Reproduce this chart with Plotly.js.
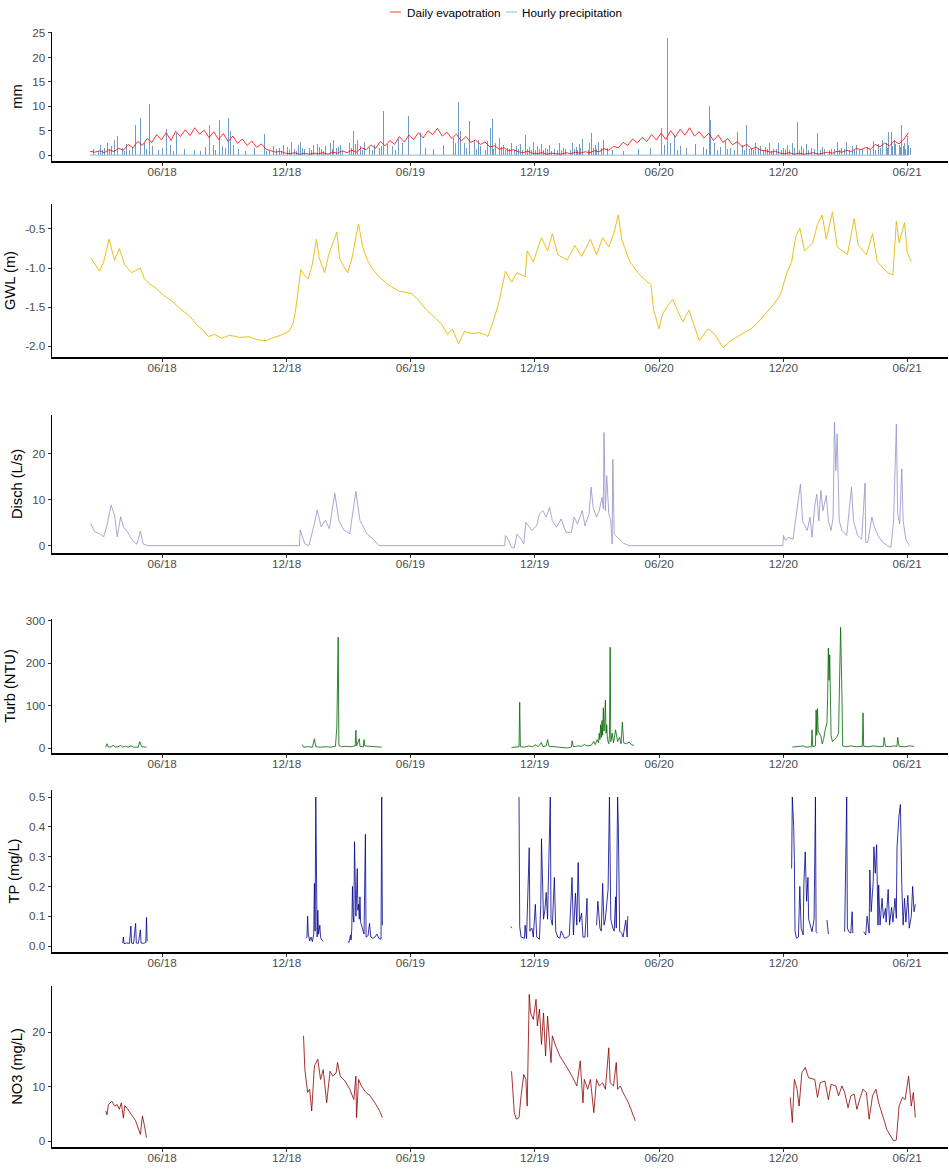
<!DOCTYPE html>
<html><head><meta charset="utf-8">
<script src="https://cdn.plot.ly/plotly-3.0.1.min.js"></script>
<style>html,body{margin:0;padding:0;background:#fff}#chart{width:949px;height:1169px}</style>
</head><body><div id="chart"></div>
<script>
// ---------- DATA ----------
// Daily evapotration, sampled weekly from start date
const evapStart = '2018-02-15';
const evapStepDays = 7;
const evapValues = [
0.8,0.6, 0.9,0.5,1.1,0.7,1.4, 1.0,2.2,1.5,2.8, 2.0,3.4,2.6,4.2,3.1, 4.6,3.0,4.9,3.8, 5.2,4.0,5.6,4.3,
5.1,3.6,4.8,3.2,4.4, 2.8,3.9,2.4,3.3, 2.0,2.9,1.6,2.3, 1.2,0.9,0.6,0.8,0.4, 0.3,0.5,0.2,0.4,
0.2,0.4,0.3,0.5,0.2, 0.6,0.4,0.9,0.5, 1.0,0.6,1.5,1.1, 2.1,1.4,2.8,1.9, 3.0,2.2,3.8,2.7,4.1, 3.2,4.6,3.5,5.0,
4.2,5.5,3.9,4.7, 3.4,4.3,2.9,3.8,2.6, 3.1,2.2,2.7,1.7, 1.9,1.2,1.5,0.9,1.1, 0.7,0.5,0.8,0.4, 0.3,0.5,0.2,0.4,
0.3,0.2,0.5,0.3,0.6, 0.4,0.7,0.5,0.9, 0.7,1.3,1.0,1.8, 1.5,2.6,2.0,3.3,2.5, 3.6,2.8,4.2,3.1, 4.5,3.2,5.0,3.7,
5.3,4.1,5.6,3.9,4.8, 3.5,4.5,3.0,4.1, 2.6,3.4,2.1,2.8, 1.7,2.2,1.3,1.6,1.0, 0.9,0.6,0.8,0.4, 0.3,0.5,0.2,0.4,0.2,
0.3,0.5,0.2,0.4, 0.6,0.4,0.8,0.6, 1.0,0.7,1.4,1.1, 1.6,1.2,2.2,1.7,2.5, 1.9,2.9,2.3,3.2, 4.6
];

// Hourly precipitation events [date, mm]
const precip = [
['2018-02-20',1.2],['2018-03-02',2.0],['2018-03-08',1.5],['2018-03-13',2.4],['2018-03-19',1.8],['2018-03-23',3.0],['2018-03-28',3.9],['2018-04-03',1.4],['2018-04-09',2.2],['2018-04-14',1.1],['2018-04-23',6.2],['2018-04-30',7.5],['2018-05-06',2.5],['2018-05-13',10.5],['2018-05-18',1.8],['2018-05-23',4.0],['2018-06-02',1.5],['2018-06-07',5.3],['2018-06-14',2.0],['2018-06-22',4.5],['2018-07-04',1.2],['2018-07-18',1.0],['2018-07-27',0.8],['2018-08-04',1.6],['2018-08-10',6.2],['2018-08-16',2.1],['2018-08-25',7.2],['2018-08-29',1.8],['2018-09-06',7.5],['2018-09-09',4.9],['2018-09-14',2.0],['2018-09-22',1.2],['2018-10-02',0.9],['2018-10-15',1.5],['2018-10-30',4.3],['2018-11-06',1.0],['2018-11-12',1.8],['2018-11-20',1.4],['2018-11-27',2.1],['2018-12-03',1.6],['2018-12-08',2.7],['2018-12-13',1.3],['2018-12-18',2.0],['2018-12-22',2.7],['2018-12-28',1.2],
['2019-01-04',1.5],['2019-01-10',2.0],['2019-01-15',2.2],['2019-01-22',1.3],['2019-01-28',1.8],['2019-02-03',2.5],['2019-02-08',3.1],['2019-02-13',1.4],['2019-02-19',2.0],['2019-02-25',1.2],['2019-03-03',2.4],['2019-03-09',4.9],['2019-03-12',2.2],['2019-03-15',3.0],['2019-03-20',1.8],['2019-03-26',2.6],['2019-04-02',1.6],['2019-04-10',2.0],['2019-04-17',1.4],['2019-04-23',9.0],['2019-04-28',2.2],['2019-05-06',1.8],['2019-05-14',3.4],['2019-05-21',2.5],['2019-05-29',8.0],['2019-06-05',2.0],['2019-06-16',4.5],['2019-06-24',1.5],['2019-07-05',1.2],['2019-07-20',2.0],['2019-08-03',3.5],['2019-08-07',2.4],['2019-08-11',10.8],['2019-08-14',5.0],['2019-08-20',2.5],['2019-08-27',7.0],['2019-09-03',2.8],['2019-09-09',3.0],['2019-09-16',2.0],['2019-09-22',2.8],['2019-09-27',5.5],['2019-09-30',7.3],['2019-10-05',2.5],['2019-10-10',3.5],['2019-10-16',2.0],['2019-10-22',1.5],['2019-10-28',2.4],['2019-11-04',1.8],['2019-11-10',2.2],['2019-11-17',4.1],['2019-11-23',1.6],['2019-11-29',2.7],['2019-12-05',1.9],['2019-12-11',2.2],['2019-12-17',1.4],['2019-12-23',2.0],['2019-12-30',1.3],
['2020-01-06',2.4],['2020-01-12',1.5],['2020-01-19',2.0],['2020-01-25',2.4],['2020-01-31',1.6],['2020-02-05',2.2],['2020-02-10',3.4],['2020-02-16',4.6],['2020-02-20',2.5],['2020-02-23',4.6],['2020-02-28',2.0],['2020-03-04',2.6],['2020-03-11',3.1],['2020-03-17',1.5],['2020-03-25',1.0],['2020-04-10',0.8],['2020-05-02',1.2],['2020-05-20',1.5],['2020-06-05',5.5],['2020-06-09',2.0],['2020-06-13',24.0],['2020-06-18',2.5],['2020-06-24',4.1],['2020-07-02',1.8],['2020-07-12',1.5],['2020-07-25',2.2],['2020-08-05',1.6],['2020-08-14',10.1],['2020-08-16',7.2],['2020-08-22',2.5],['2020-08-30',1.6],['2020-09-06',2.8],['2020-09-14',1.5],['2020-09-24',4.8],['2020-10-02',2.0],['2020-10-08',6.2],['2020-10-15',1.4],['2020-10-21',2.4],['2020-10-28',1.8],['2020-11-04',1.6],['2020-11-10',2.4],['2020-11-17',1.2],['2020-11-24',2.4],['2020-12-01',1.5],['2020-12-07',2.0],['2020-12-14',2.4],['2020-12-21',6.7],['2020-12-27',1.8],
['2021-01-04',2.2],['2021-01-11',1.4],['2021-01-20',4.5],['2021-01-27',1.6],['2021-02-03',2.2],['2021-02-10',1.2],['2021-02-18',2.6],['2021-02-25',1.5],['2021-03-04',2.7],['2021-03-12',1.8],['2021-03-19',2.0],['2021-03-27',1.2],['2021-04-04',1.6],['2021-04-12',2.8],['2021-04-20',2.2],['2021-04-26',3.0],['2021-05-01',2.4],['2021-05-05',4.7],['2021-05-09',4.7],['2021-05-13',3.0],['2021-05-17',10.4],['2021-05-20',2.0],['2021-05-24',6.2],['2021-05-28',2.5],['2021-06-01',4.0],['2021-06-06',1.5]
];
// Smaller hourly precipitation events [date, mm]
const precipMinor = [
['2018-02-27',0.8],['2018-03-05',1.0],['2018-03-16',1.2],['2018-04-06',0.9],['2018-04-19',1.6],['2018-05-09',1.2],['2018-05-27',1.0],['2018-06-18',0.8],['2018-08-19',1.0],['2018-09-02',1.5],['2018-11-02',0.8],['2018-11-16',1.2],['2018-11-23',0.9],['2018-12-05',1.1],['2018-12-16',0.9],['2018-12-25',1.5],
['2019-01-07',1.0],['2019-01-18',1.6],['2019-01-25',0.9],['2019-02-06',1.2],['2019-02-16',1.7],['2019-02-22',0.9],['2019-03-06',1.4],['2019-03-23',1.1],['2019-04-07',1.0],['2019-04-20',1.8],['2019-05-10',1.0],['2019-08-23',1.5],['2019-09-06',1.2],['2019-09-13',1.8],['2019-09-19',1.1],['2019-10-02',1.3],['2019-10-13',1.6],['2019-10-19',1.0],['2019-10-25',1.2],['2019-11-01',1.0],['2019-11-07',1.3],['2019-11-13',1.0],['2019-11-20',1.2],['2019-11-26',1.0],['2019-12-02',1.1],['2019-12-08',1.3],['2019-12-14',1.0],['2019-12-20',1.2],['2019-12-26',0.9],
['2020-01-03',1.1],['2020-01-09',1.0],['2020-01-16',1.3],['2020-01-22',1.0],['2020-01-28',1.2],['2020-02-02',1.0],['2020-02-07',1.4],['2020-02-13',1.8],['2020-02-18',1.1],['2020-02-26',1.5],['2020-03-01',1.2],['2020-03-08',1.4],['2020-06-20',1.2],['2020-06-28',1.0],['2020-08-10',1.3],['2020-08-26',1.0],['2020-09-10',1.2],['2020-09-20',1.0],['2020-10-05',1.1],['2020-10-12',1.3],['2020-10-18',1.0],['2020-10-25',1.2],['2020-11-01',1.0],['2020-11-07',1.2],['2020-11-14',0.9],['2020-11-21',1.3],['2020-11-28',1.0],['2020-12-04',1.2],['2020-12-10',1.0],['2020-12-17',1.4],['2020-12-24',1.0],['2020-12-30',1.2],
['2021-01-07',1.1],['2021-01-15',1.3],['2021-01-24',1.0],['2021-01-31',1.2],['2021-02-06',1.0],['2021-02-14',1.3],['2021-02-21',1.0],['2021-03-01',1.2],['2021-03-08',1.0],['2021-03-15',1.1],['2021-03-23',1.0],['2021-04-08',1.2],['2021-04-16',1.0],['2021-04-23',1.4],['2021-05-03',1.5],['2021-05-11',1.8],['2021-05-15',2.2],['2021-05-22',1.6],['2021-05-26',1.9],['2021-05-30',1.3],['2021-06-03',2.0]
];

// Groundwater level (m)
const gwl = [
['2018-02-16',-0.87],['2018-03-01',-1.04],['2018-03-07',-0.92],['2018-03-15',-0.63],['2018-03-23',-0.90],['2018-03-30',-0.75],['2018-04-07',-0.96],['2018-04-17',-1.06],['2018-04-30',-1.00],['2018-05-06',-1.14],['2018-05-13',-1.20],['2018-05-23',-1.26],['2018-06-03',-1.35],['2018-06-15',-1.42],['2018-06-30',-1.54],['2018-07-11',-1.61],['2018-07-22',-1.73],['2018-08-01',-1.80],['2018-08-08',-1.88],['2018-08-17',-1.85],['2018-08-28',-1.90],['2018-09-08',-1.86],['2018-09-23',-1.89],['2018-10-07',-1.88],['2018-10-19',-1.92],['2018-11-01',-1.93],['2018-11-12',-1.89],['2018-11-23',-1.86],['2018-12-05',-1.81],['2018-12-11',-1.70],['2018-12-15',-1.50],['2018-12-19',-1.25],['2018-12-22',-1.02],['2018-12-28',-1.10],
['2019-01-02',-1.14],['2019-01-08',-0.95],['2019-01-14',-0.63],['2019-01-18',-0.87],['2019-01-26',-1.06],['2019-02-01',-0.83],['2019-02-08',-0.66],['2019-02-13',-0.54],['2019-02-17',-0.87],['2019-02-23',-0.98],['2019-03-01',-1.06],['2019-03-08',-0.85],['2019-03-13',-0.60],['2019-03-17',-0.44],['2019-03-23',-0.73],['2019-03-30',-0.90],['2019-04-07',-1.02],['2019-04-17',-1.12],['2019-04-29',-1.21],['2019-05-07',-1.25],['2019-05-16',-1.30],['2019-05-25',-1.31],['2019-06-03',-1.33],['2019-06-12',-1.40],['2019-06-25',-1.54],['2019-07-08',-1.64],['2019-07-17',-1.72],['2019-07-26',-1.85],['2019-08-02',-1.78],['2019-08-11',-1.97],['2019-08-20',-1.81],['2019-08-30',-1.84],['2019-09-10',-1.83],['2019-09-19',-1.85],['2019-09-23',-1.88],['2019-10-01',-1.69],['2019-10-10',-1.42],['2019-10-19',-1.04],['2019-10-28',-1.18],['2019-11-05',-1.06],['2019-11-17',-1.11],['2019-11-20',-0.78],['2019-11-29',-0.92],['2019-12-11',-0.61],['2019-12-20',-0.78],['2019-12-27',-0.56],
['2020-01-04',-0.83],['2020-01-18',-0.90],['2020-01-29',-0.71],['2020-02-08',-0.85],['2020-02-21',-0.63],['2020-03-01',-0.83],['2020-03-10',-0.61],['2020-03-19',-0.73],['2020-03-27',-0.54],['2020-04-02',-0.32],['2020-04-07',-0.63],['2020-04-11',-0.73],['2020-04-19',-0.92],['2020-05-01',-1.06],['2020-05-11',-1.15],['2020-05-20',-1.21],['2020-05-24',-1.54],['2020-06-01',-1.78],['2020-06-06',-1.59],['2020-06-14',-1.48],['2020-06-21',-1.40],['2020-06-28',-1.54],['2020-07-06',-1.69],['2020-07-15',-1.54],['2020-07-30',-1.93],['2020-08-12',-1.78],['2020-08-22',-1.85],['2020-09-03',-2.02],['2020-09-15',-1.93],['2020-10-04',-1.83],['2020-10-14',-1.78],['2020-10-23',-1.71],['2020-11-01',-1.62],['2020-11-09',-1.54],['2020-11-18',-1.45],['2020-11-27',-1.33],['2020-12-06',-1.06],['2020-12-13',-0.92],['2020-12-19',-0.60],['2020-12-25',-0.49],
['2021-01-01',-0.78],['2021-01-13',-0.68],['2021-01-20',-0.44],['2021-01-27',-0.32],['2021-02-02',-0.63],['2021-02-11',-0.28],['2021-02-18',-0.73],['2021-03-05',-0.83],['2021-03-15',-0.37],['2021-03-21',-0.71],['2021-04-02',-0.83],['2021-04-11',-0.56],['2021-04-18',-0.92],['2021-05-03',-1.06],['2021-05-11',-1.09],['2021-05-16',-0.40],['2021-05-20',-0.68],['2021-05-28',-0.42],['2021-06-01',-0.80],['2021-06-07',-0.92]
];

// Discharge (L/s)
const disch = [
['2018-02-16',4.8],['2018-02-22',3.0],['2018-03-01',2.6],['2018-03-07',1.9],['2018-03-12',4.5],['2018-03-18',8.8],['2018-03-23',6.6],['2018-03-27',1.9],['2018-04-01',6.3],['2018-04-05',4.1],['2018-04-11',3.0],['2018-04-18',1.2],['2018-04-25',0.3],['2018-04-30',3.2],['2018-05-04',0.4],['2018-05-10',0],['2018-12-20',0],
['2018-12-21',3.4],['2018-12-28',0.4],['2019-01-03',0],['2019-01-11',4.8],['2019-01-15',7.7],['2019-01-21',4.1],['2019-01-27',5.5],['2019-02-02',3.7],['2019-02-10',11.4],['2019-02-16',5.5],['2019-02-23',3.4],['2019-03-04',2.6],['2019-03-13',11.8],['2019-03-19',5.5],['2019-03-29',2.6],['2019-04-07',1.5],['2019-04-16',0],['2019-10-18',0],
['2019-10-19',2.2],['2019-10-23',1.4],['2019-10-28',-0.4],['2019-11-01',-0.5],['2019-11-03',1.4],['2019-11-05',2.5],['2019-11-11',1.4],['2019-11-15',0.4],['2019-11-18',5.1],['2019-11-23',4.0],['2019-11-27',3.3],['2019-12-04',4.3],['2019-12-08',6.9],['2019-12-13',7.6],['2019-12-18',6.2],['2019-12-23',8.3],['2019-12-27',5.4],['2020-01-02',4.0],['2020-01-09',5.8],['2020-01-16',2.9],['2020-01-24',2.9],['2020-01-28',6.2],['2020-02-02',4.7],['2020-02-09',7.6],['2020-02-13',4.3],['2020-02-19',6.9],['2020-02-22',12.7],['2020-02-25',8.3],['2020-03-01',6.2],['2020-03-05',7.6],['2020-03-09',10.5],['2020-03-11',8.0],['2020-03-12',24.6],['2020-03-14',7.6],['2020-03-16',15.2],['2020-03-19',6.9],['2020-03-22',5.4],['2020-03-24',0.4],['2020-03-25',18.8],['2020-03-27',2.5],['2020-04-03',1.4],['2020-04-10',0.5],['2020-04-18',0],['2020-11-30',0],
['2020-12-01',2.2],['2020-12-04',1.1],['2020-12-08',1.8],['2020-12-15',1.4],['2020-12-20',6.9],['2020-12-26',13.4],['2020-12-29',5.4],['2021-01-05',3.3],['2021-01-09',6.2],['2021-01-12',1.8],['2021-01-16',8.7],['2021-01-19',11.2],['2021-01-22',5.4],['2021-01-25',12.0],['2021-01-28',7.6],['2021-02-02',10.9],['2021-02-05',5.4],['2021-02-09',3.3],['2021-02-12',6.2],['2021-02-14',26.8],['2021-02-16',16.3],['2021-02-18',24.3],['2021-02-21',5.4],['2021-02-25',3.3],['2021-03-04',2.2],['2021-03-11',12.7],['2021-03-14',5.4],['2021-03-20',2.2],['2021-03-26',1.4],['2021-03-31',13.6],['2021-04-01',0.7],['2021-04-04',0.7],['2021-04-10',6.2],['2021-04-14',4.0],['2021-04-19',2.2],['2021-04-26',0.7],['2021-05-03',0],['2021-05-08',-0.4],['2021-05-12',5.4],['2021-05-16',26.4],['2021-05-18',6.9],['2021-05-21',4.7],['2021-05-24',16.7],['2021-05-26',5.4],['2021-05-30',1.4],['2021-06-04',0]
];

// Turbidity (NTU); null = no record
const turb = [
['2018-03-10',2],['2018-03-12',10],['2018-03-14',2],['2018-03-19',3],['2018-03-21',7],['2018-03-24',2],['2018-03-28',3],['2018-04-01',6],['2018-04-04',2],['2018-04-08',4],['2018-04-12',2],['2018-04-16',5],['2018-04-20',2],['2018-04-24',3],['2018-04-27',2],['2018-04-29',15],['2018-05-02',3],['2018-05-09',2],
['2018-09-01',null],
['2018-12-24',8],['2018-12-26',2],['2019-01-02',3],['2019-01-08',2],['2019-01-11',22],['2019-01-13',3],['2019-01-20',2],['2019-01-28',3],['2019-02-04',2],['2019-02-11',4],['2019-02-13',50],['2019-02-14',255],['2019-02-15',262],['2019-02-16',6],['2019-02-20',3],['2019-02-27',4],['2019-03-05',3],['2019-03-12',5],['2019-03-13',42],['2019-03-14',5],['2019-03-18',22],['2019-03-19',4],['2019-03-24',3],['2019-03-25',20],['2019-03-26',5],['2019-04-02',4],['2019-04-10',3],['2019-04-20',2],
['2019-08-01',null],
['2019-10-28',1],['2019-11-02',2],['2019-11-08',3],['2019-11-09',108],['2019-11-10',3],['2019-11-16',2],['2019-11-22',5],['2019-11-28',3],['2019-12-03',8],['2019-12-06',3],['2019-12-11',13],['2019-12-13',3],['2019-12-18',5],['2019-12-20',20],['2019-12-22',4],['2019-12-30',3],['2020-01-06',2],['2020-01-10',0],['2020-01-18',0],['2020-01-24',2],['2020-01-25',17],['2020-01-27',3],['2020-02-03',5],['2020-02-08',4],['2020-02-12',8],['2020-02-17',5],['2020-02-22',6],['2020-02-26',16],['2020-02-28',8],['2020-03-02',20],['2020-03-04',12],['2020-03-05',35],['2020-03-06',20],['2020-03-07',55],['2020-03-08',25],['2020-03-09',65],['2020-03-10',30],['2020-03-11',95],['2020-03-12',40],['2020-03-13',60],['2020-03-14',113],['2020-03-15',35],['2020-03-16',55],['2020-03-17',20],['2020-03-19',10],['2020-03-20',30],['2020-03-21',238],['2020-03-22',15],['2020-03-24',35],['2020-03-26',12],['2020-03-29',43],['2020-04-01',15],['2020-04-04',25],['2020-04-06',10],['2020-04-08',61],['2020-04-10',12],['2020-04-14',10],['2020-04-18',14],['2020-04-21',8],['2020-04-25',6],
['2020-08-01',null],
['2020-12-14',2],['2020-12-22',3],['2020-12-30',5],['2021-01-03',2],['2021-01-11',3],['2021-01-12',43],['2021-01-13',3],['2021-01-17',5],['2021-01-18',90],['2021-01-19',30],['2021-01-20',93],['2021-01-21',40],['2021-01-25',28],['2021-01-27',10],['2021-01-29',20],['2021-01-31',40],['2021-02-03',60],['2021-02-04',122],['2021-02-05',236],['2021-02-06',160],['2021-02-07',220],['2021-02-09',30],['2021-02-11',15],['2021-02-14',20],['2021-02-17',25],['2021-02-20',35],['2021-02-22',161],['2021-02-23',285],['2021-02-25',126],['2021-02-26',5],['2021-03-03',3],['2021-03-10',5],['2021-03-18',3],['2021-03-27',4],['2021-03-28',83],['2021-03-29',4],['2021-04-05',3],['2021-04-12',5],['2021-04-20',3],['2021-04-27',4],['2021-04-28',25],['2021-04-30',4],['2021-05-06',3],['2021-05-12',5],['2021-05-17',4],['2021-05-18',25],['2021-05-20',4],['2021-05-28',3],['2021-06-04',5],['2021-06-11',4]
];

// Total phosphorus (mg/L); null = no record
const tp = [
['2018-04-04',0.010],['2018-04-05',0.030],['2018-04-06',0.008],['2018-04-10',0.010],['2018-04-14',0.009],['2018-04-16',0.067],['2018-04-17',0.010],['2018-04-20',0.008],['2018-04-23',0.076],['2018-04-24',0.010],['2018-04-27',0.009],['2018-04-30',0.054],['2018-05-01',0.010],['2018-05-05',0.009],['2018-05-08',0.012],['2018-05-09',0.096],['2018-05-10',0.015],
['2018-09-01',null],
['2018-12-30',0.026],['2018-12-31',0.030],['2019-01-01',0.100],['2019-01-02',0.040],['2019-01-04',0.017],['2019-01-06',0.030],['2019-01-08',0.015],['2019-01-10',0.040],['2019-01-11',0.210],['2019-01-12',0.050],['2019-01-13',0.500],['2019-01-14',0.050],['2019-01-15',0.030],['2019-01-16',0.120],['2019-01-17',0.040],['2019-01-19',0.070],['2019-01-20',0.030],['2019-01-22',0.020],['2019-01-24',0.015],
['2019-02-10',null],
['2019-03-01',0.015],['2019-03-03',0.012],['2019-03-05',0.037],['2019-03-06',0.020],['2019-03-07',0.060],['2019-03-08',0.200],['2019-03-09',0.100],['2019-03-10',0.080],['2019-03-11',0.350],['2019-03-12',0.130],['2019-03-13',0.100],['2019-03-14',0.170],['2019-03-15',0.260],['2019-03-16',0.120],['2019-03-17',0.140],['2019-03-18',0.090],['2019-03-19',0.165],['2019-03-20',0.080],['2019-03-21',0.070],['2019-03-23',0.050],['2019-03-25',0.040],['2019-03-27',0.375],['2019-03-28',0.030],['2019-03-31',0.035],['2019-04-02',0.076],['2019-04-04',0.030],['2019-04-07',0.026],['2019-04-10',0.030],['2019-04-13',0.040],['2019-04-16',0.025],['2019-04-19',0.023],['2019-04-20',0.500],['2019-04-21',0.070],
['2019-08-01',null],
['2019-10-27',0.065],['2019-10-28',0.060],
['2019-11-03',null],
['2019-11-08',0.500],['2019-11-09',0.065],['2019-11-11',0.030],['2019-11-14',0.028],['2019-11-16',0.026],['2019-11-17',0.070],['2019-11-19',0.025],['2019-11-22',0.255],['2019-11-23',0.330],['2019-11-24',0.050],['2019-11-27',0.060],['2019-11-29',0.030],['2019-12-02',0.140],['2019-12-04',0.030],['2019-12-08',0.023],['2019-12-10',0.140],['2019-12-11',0.360],['2019-12-14',0.090],['2019-12-16',0.120],['2019-12-18',0.180],['2019-12-20',0.090],['2019-12-21',0.205],['2019-12-24',0.500],['2019-12-25',0.090],['2019-12-27',0.070],['2019-12-30',0.230],['2020-01-01',0.050],['2020-01-04',0.030],['2020-01-07',0.026],['2020-01-09',0.050],['2020-01-14',0.026],['2020-01-18',0.030],['2020-01-21',0.035],['2020-01-25',0.230],['2020-01-27',0.037],['2020-01-30',0.177],['2020-02-01',0.070],['2020-02-03',0.280],['2020-02-05',0.080],['2020-02-08',0.110],['2020-02-10',0.030],['2020-02-13',0.030],['2020-02-16',0.160],['2020-02-17',0.030],
['2020-02-22',null],
['2020-03-01',0.070],['2020-03-03',0.150],['2020-03-06',0.060],['2020-03-08',0.050],['2020-03-10',0.210],['2020-03-12',0.070],['2020-03-14',0.090],['2020-03-17',0.155],['2020-03-18',0.190],['2020-03-20',0.500],['2020-03-22',0.090],['2020-03-25',0.060],['2020-03-27',0.050],['2020-03-29',0.165],['2020-03-30',0.060],['2020-04-01',0.500],['2020-04-02',0.410],['2020-04-04',0.050],['2020-04-07',0.043],['2020-04-09',0.030],['2020-04-13',0.087],['2020-04-15',0.030],['2020-04-16',0.100],
['2020-08-01',null],
['2020-12-13',0.260],['2020-12-14',0.500],['2020-12-16',0.400],['2020-12-17',0.290],['2020-12-18',0.050],['2020-12-20',0.026],['2020-12-23',0.030],['2020-12-25',0.200],['2020-12-27',0.060],['2020-12-30',0.037],['2020-12-31',0.210],['2021-01-02',0.316],['2021-01-04',0.150],['2021-01-06',0.230],['2021-01-07',0.090],['2021-01-10',0.060],['2021-01-12',0.048],['2021-01-15',0.090],['2021-01-17',0.500],['2021-01-18',0.048],['2021-01-20',0.043],
['2021-01-27',null],
['2021-02-03',0.087],['2021-02-05',0.040],
['2021-02-15',null],
['2021-03-01',0.048],['2021-03-04',0.500],['2021-03-05',0.060],['2021-03-07',0.048],['2021-03-10',0.043],['2021-03-12',0.115],['2021-03-13',0.043],
['2021-03-20',null],
['2021-03-29',0.048],['2021-04-01',0.037],['2021-04-03',0.100],['2021-04-06',0.043],['2021-04-07',0.255],['2021-04-09',0.115],['2021-04-12',0.216],['2021-04-13',0.333],['2021-04-15',0.244],['2021-04-17',0.340],['2021-04-19',0.070],['2021-04-20',0.205],['2021-04-22',0.070],['2021-04-25',0.160],['2021-04-27',0.093],['2021-04-30',0.126],['2021-05-01',0.080],['2021-05-04',0.190],['2021-05-06',0.070],['2021-05-09',0.130],['2021-05-11',0.080],['2021-05-14',0.160],['2021-05-16',0.093],['2021-05-17',0.330],['2021-05-20',0.440],['2021-05-22',0.475],['2021-05-24',0.205],['2021-05-26',0.070],['2021-05-28',0.160],['2021-05-30',0.080],['2021-06-02',0.170],['2021-06-04',0.060],['2021-06-07',0.100],['2021-06-09',0.200],['2021-06-11',0.115],['2021-06-13',0.140]
];

// Nitrate (mg/L); null = no record
const no3 = [
['2018-03-10',5.5],['2018-03-12',4.8],['2018-03-14',6.7],['2018-03-19',7.3],['2018-03-23',6.4],['2018-03-27',6.7],['2018-03-30',5.8],['2018-04-02',7.0],['2018-04-05',4.2],['2018-04-07',6.5],['2018-04-11',5.9],['2018-04-17',4.9],['2018-04-23',3.7],['2018-04-30',1.2],['2018-05-03',4.6],['2018-05-06',2.8],['2018-05-09',0.6],
['2018-09-01',null],
['2018-12-26',19.3],['2018-12-28',13.1],['2019-01-01',8.9],['2019-01-04',9.5],['2019-01-07',5.5],['2019-01-11',13.8],['2019-01-16',15.0],['2019-01-20',11.3],['2019-01-24',13.1],['2019-01-29',7.0],['2019-02-03',12.8],['2019-02-07',11.9],['2019-02-12',12.5],['2019-02-14',14.4],['2019-02-18',11.9],['2019-02-25',11.0],['2019-03-04',9.5],['2019-03-10',7.6],['2019-03-13',11.9],['2019-03-14',4.3],['2019-03-17',11.3],['2019-03-21',10.1],['2019-03-28',8.9],['2019-04-03',8.3],['2019-04-10',7.0],['2019-04-17',5.5],['2019-04-21',4.3],
['2019-08-01',null],
['2019-10-28',12.8],['2019-11-01',5.2],['2019-11-04',4.0],['2019-11-08',4.3],['2019-11-11',8.3],['2019-11-15',12.2],['2019-11-18',11.3],['2019-11-20',6.4],['2019-11-23',26.9],['2019-11-25',23.5],['2019-11-29',22.3],['2019-12-03',26.0],['2019-12-05',21.1],['2019-12-08',24.2],['2019-12-11',17.7],['2019-12-14',23.5],['2019-12-17',15.6],['2019-12-20',22.9],['2019-12-25',14.4],['2019-12-27',19.3],['2020-01-01',17.4],['2020-01-07',15.6],['2020-01-16',13.8],['2020-01-25',11.9],['2020-02-01',10.1],['2020-02-06',14.7],['2020-02-10',7.0],['2020-02-12',11.3],['2020-02-17',9.5],['2020-02-21',11.3],['2020-02-26',5.2],['2020-03-01',11.3],['2020-03-05',10.1],['2020-03-10',10.7],['2020-03-14',9.5],['2020-03-19',17.1],['2020-03-21',10.7],['2020-03-26',10.1],['2020-03-30',14.4],['2020-04-01',9.5],['2020-04-05',10.1],['2020-04-09',8.9],['2020-04-17',7.0],['2020-04-23',5.2],['2020-04-27',3.7],
['2020-08-01',null],
['2020-12-11',8.0],['2020-12-14',3.4],['2020-12-17',11.3],['2020-12-21',9.5],['2020-12-24',6.4],['2020-12-28',12.5],['2021-01-02',13.5],['2021-01-07',11.6],['2021-01-16',11.3],['2021-01-20',8.0],['2021-01-24',10.7],['2021-01-31',11.0],['2021-02-05',7.6],['2021-02-09',10.4],['2021-02-16',10.1],['2021-02-20',8.3],['2021-02-25',10.1],['2021-03-01',8.9],['2021-03-06',6.1],['2021-03-10',8.3],['2021-03-15',8.6],['2021-03-19',5.8],['2021-03-24',8.0],['2021-03-28',9.5],['2021-04-02',8.9],['2021-04-06',4.0],['2021-04-11',8.3],['2021-04-16',9.5],['2021-04-20',7.0],['2021-04-25',5.2],['2021-04-29',3.4],['2021-05-02',2.1],['2021-05-07',0.9],['2021-05-12',0.0],['2021-05-16',0.2],['2021-05-20',6.4],['2021-05-25',8.0],['2021-05-29',7.6],['2021-06-03',11.9],['2021-06-07',6.4],['2021-06-10',8.9],['2021-06-13',4.3]
];

const xTickLabels = ['06/18','12/18','06/19','12/19','06/20','12/20','06/21'];
const xTickDates = ['2018-06-01','2018-12-01','2019-06-01','2019-12-01','2020-06-01','2020-12-01','2021-06-01'];
const gwlTickVals = [-2.0,-1.5,-1.0,-0.5];
const gwlTickText = ['-2.0','-1.5','-1.0','-0.5'];
const tpTickVals = [0,0.1,0.2,0.3,0.4,0.5];
const tpTickText = ['0.0','0.1','0.2','0.3','0.4','0.5'];
const legendLabels = ['Daily evapotration', 'Hourly precipitation'];

// ---------- BUILD ----------
const DAY = 86400000;
function stepDates(start, step, n){
  const t0 = Date.parse(start + 'T00:00:00Z'); const out = [];
  for (let i = 0; i < n; i++) out.push(new Date(t0 + i*step*DAY).toISOString().slice(0,10));
  return out;
}
const xs = a => a.map(p => p[0]);
const ys = a => a.map(p => p[1]);
const evapDates = stepDates(evapStart, evapStepDays, evapValues.length);
const precipAll = precip.concat(precipMinor);

const FONT = 'Liberation Sans, Arial, Helvetica, sans-serif';
const tickFont = {family: FONT, size: 11.7, color: '#4D4D4D'};
const titleFont = {family: FONT, size: 14.7, color: '#000'};
const XRANGE = ['2017-12-21', '2021-07-31'];
const EVAP_COL = '#FF0000', PREC_COL = '#3A78B0';

const traces = [
  {type:'scatter', mode:'lines', x:[evapDates[0], evapDates[evapDates.length-1]], y:[0,0], xaxis:'x', yaxis:'y',
   line:{color:'#8DB3D6', width:1}, hoverinfo:'skip'},
  {type:'scatter', mode:'lines', x: evapDates, y: evapValues, xaxis:'x', yaxis:'y',
   line:{color:EVAP_COL, width:0.8}},
  {type:'bar', x: xs(precipAll), y: ys(precipAll), xaxis:'x', yaxis:'y', width: 1.4*DAY,
   marker:{color:PREC_COL, line:{width:0}}, opacity:0.72},
  {type:'scatter', mode:'lines', x: xs(gwl), y: ys(gwl), xaxis:'x2', yaxis:'y2',
   line:{color:'#E7B800', width:0.9}},
  {type:'scatter', mode:'lines', x: xs(disch), y: ys(disch), xaxis:'x3', yaxis:'y3',
   line:{color:'#9090CC', width:0.8}},
  {type:'scatter', mode:'lines', x: xs(turb), y: ys(turb), xaxis:'x4', yaxis:'y4', connectgaps:false,
   line:{color:'#006400', width:0.8}},
  {type:'scatter', mode:'lines', x: xs(tp), y: ys(tp), xaxis:'x5', yaxis:'y5', connectgaps:false,
   line:{color:'#00008B', width:0.8}},
  {type:'scatter', mode:'lines', x: xs(no3), y: ys(no3), xaxis:'x6', yaxis:'y6', connectgaps:false,
   line:{color:'#8B0000', width:0.8}}
];

function xAxis(anchor){
  return {type:'date', anchor: anchor, domain:[0,1], range: XRANGE,
    tickmode:'array', tickvals: xTickDates, ticktext: xTickLabels,
    ticks:'outside', ticklen:3, tickwidth:1, tickcolor:'#333', ticklabelstandoff:-4,
    showline:true, linecolor:'#000', linewidth:1.6, showgrid:false, zeroline:false,
    tickfont: tickFont, fixedrange:true};
}
function yAxis(anchor, domain, range, title, extra){
  return Object.assign({anchor: anchor, domain: domain, range: range,
    ticks:'outside', ticklen:3, tickwidth:1, tickcolor:'#333',
    showline:true, linecolor:'#000', linewidth:1.3, showgrid:false, zeroline:false,
    tickfont: tickFont, fixedrange:true,
    title:{text: title, font: titleFont, standoff: 6}}, extra || {});
}
const H = 1169, L = 52, PW = 896;
const d = (top, bottom) => [1 - bottom/H, 1 - top/H];
const px = p => (p - L) / PW;       // page x pixel -> paper x (for legend only)
const LEG_Y = 1 - 12/H;

const layout = {
  width: 949, height: 1169,
  margin: {l: L, r: 1, t: 0, b: 0},
  paper_bgcolor:'#fff', plot_bgcolor:'#fff',
  font: {family: FONT},
  showlegend: false,
  bargap: 0,
  xaxis: xAxis('y'), xaxis2: xAxis('y2'), xaxis3: xAxis('y3'),
  xaxis4: xAxis('y4'), xaxis5: xAxis('y5'), xaxis6: xAxis('y6'),
  yaxis:  yAxis('x',  d(32, 161),  [-1.2, 25.2], 'mm', {dtick:5, tick0:0}),
  yaxis2: yAxis('x2', d(204, 357), [-2.14, -0.18], 'GWL (m)', {tickmode:'array', tickvals: gwlTickVals, ticktext: gwlTickText}),
  yaxis3: yAxis('x3', d(415, 553), [-1.6, 28.4], 'Disch (L/s)', {dtick:10, tick0:0}),
  yaxis4: yAxis('x4', d(619, 753), [-11.8, 304.7], 'Turb (NTU)', {dtick:100, tick0:0}),
  yaxis5: yAxis('x5', d(790, 952), [-0.0201, 0.5235], 'TP (mg/L)', {tickmode:'array', tickvals: tpTickVals, ticktext: tpTickText}),
  yaxis6: yAxis('x6', d(986, 1147), [-1.1, 28.44], 'NO3 (mg/L)', {dtick:10, tick0:0}),
  shapes: [
    {type:'line', xref:'paper', yref:'paper', x0:px(390), x1:px(401), y0:LEG_Y, y1:LEG_Y, line:{color:'rgba(255,0,0,0.75)', width:1}},
    {type:'line', xref:'paper', yref:'paper', x0:px(506), x1:px(517), y0:LEG_Y, y1:LEG_Y, line:{color:'rgba(58,120,176,0.55)', width:1}}
  ],
  annotations: [
    {xref:'paper', yref:'paper', x:px(405), y:LEG_Y, xanchor:'left', yanchor:'middle', showarrow:false,
     text: legendLabels[0], font:{family: FONT, size: 11.7, color:'#000'}},
    {xref:'paper', yref:'paper', x:px(520), y:LEG_Y, xanchor:'left', yanchor:'middle', showarrow:false,
     text: legendLabels[1], font:{family: FONT, size: 11.7, color:'#000'}}
  ]
};

Plotly.newPlot('chart', traces, layout, {displayModeBar:false, staticPlot:true});
</script></body></html>
